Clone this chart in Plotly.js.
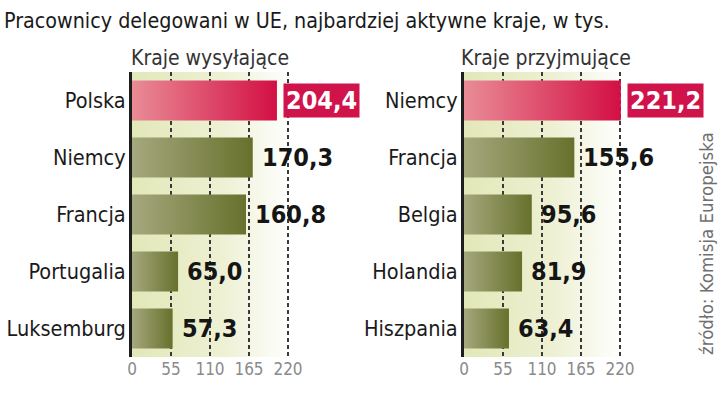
<!DOCTYPE html>
<html><head><meta charset="utf-8">
<script src="https://cdn.plot.ly/plotly-3.0.1.min.js"></script>
<style>html,body{margin:0;padding:0;background:#fff}#chart{width:720px;height:394px}</style>
</head><body><div id="chart"></div>
<script>
const titleText = "Pracownicy delegowani w UE, najbardziej aktywne kraje, w tys.";
const sendTitle = "Kraje wysyłające";
const recvTitle = "Kraje przyjmujące";
const sourceText = "źródło: Komisja Europejska";
const sendCountries = ["Polska", "Niemcy", "Francja", "Portugalia", "Luksemburg"];
const sendValues = [204.4, 170.3, 160.8, 65.0, 57.3];
const recvCountries = ["Niemcy", "Francja", "Belgia", "Holandia", "Hiszpania"];
const recvValues = [221.2, 155.6, 95.6, 81.9, 63.4];
const tickVals = [0, 55, 110, 165, 220];

const W = 720, H = 394;
const px = v => v / W, py = v => 1 - v / H;
const xRange = [0, 225];
const leftDom = [px(132), px(132 + 225 * 156 / 220)];
const rightDom = [px(464), px(464 + 225 * 156 / 220)];
const yDom = [py(357), py(72)];
const fmt = v => v.toFixed(1).replace('.', ',');
const FONT = "DejaVu Sans Condensed, DejaVu Sans, sans-serif";
const BOLD = "DejaVu Sans Condensed, DejaVu Sans, sans-serif";

function barTrace(vals, cats, xa, ya) {
  return {
    type: 'bar', orientation: 'h', x: vals, y: cats, xaxis: xa, yaxis: ya,
    width: 0.7, hoverinfo: 'none',
    marker: {color: vals.map((v, i) => i === 0 ? '#d8274f' : '#7b833f'), line: {width: 0}}
  };
}
const data = [barTrace(sendValues, sendCountries, 'x', 'y'), barTrace(recvValues, recvCountries, 'x2', 'y2')];

function valueAnns(vals, cats, xr, yr) {
  return vals.map((v, i) => i === 0 ? {
    x: v, y: cats[i], xref: xr, yref: yr, text: fmt(v), showarrow: false,
    xanchor: 'left', xshift: 6, bgcolor: '#d0134a', borderpad: 2,
    font: {family: BOLD, size: 25, color: '#fff', weight: 'bold'}
  } : {
    x: v, y: cats[i], xref: xr, yref: yr, text: fmt(v), showarrow: false,
    xanchor: 'left', xshift: 7,
    font: {family: BOLD, size: 25, color: '#151515', weight: 'bold'}
  });
}

const bgSvg = "<svg xmlns='http://www.w3.org/2000/svg' width='100' height='100' preserveAspectRatio='none'><defs><linearGradient id='g' x1='0' x2='1' y1='0' y2='0'><stop offset='0' stop-color='#e2e8b9'/><stop offset='0.55' stop-color='#edf0d2'/><stop offset='1' stop-color='#ffffff'/></linearGradient></defs><rect width='100' height='100' fill='url(#g)'/></svg>";
const bgSrc = "data:image/svg+xml;charset=utf-8," + encodeURIComponent(bgSvg);

function xAxis(dom, anchor) {
  return {
    domain: dom, anchor: anchor, range: xRange, fixedrange: true,
    tickvals: tickVals, ticktext: tickVals.map(String), showgrid: true,
    gridcolor: '#3a3a3a', gridwidth: 1.1, griddash: '4px,3px', layer: 'above traces',
    zeroline: false, showline: false, ticks: '', ticklabelstandoff: 0,
    tickfont: {family: FONT, size: 17, color: '#8a8a8a'}
  };
}
function yAxis(anchor) {
  return {
    domain: yDom, anchor: anchor, autorange: 'reversed', type: 'category',
    showline: true, linewidth: 3, linecolor: '#1e1e1e', showgrid: false, ticks: '',
    ticklabelstandoff: -1, tickfont: {family: FONT, size: 21.5, color: '#1a1a1a'}
  };
}

const layout = {
  width: W, height: H, margin: {l: 0, r: 0, t: 0, b: 0},
  paper_bgcolor: '#fff', plot_bgcolor: 'rgba(0,0,0,0)', showlegend: false,
  title: {text: titleText, x: px(4), xanchor: 'left', xref: 'paper', y: py(21), yanchor: 'middle',
    font: {family: FONT, size: 21.3, color: '#1a1a1a'}},
  xaxis: xAxis(leftDom, 'y'), yaxis: yAxis('x'),
  xaxis2: xAxis(rightDom, 'y2'), yaxis2: yAxis('x2'),
  bargap: 0.3,
  images: [leftDom, rightDom].map(d => ({source: bgSrc, xref: 'paper', yref: 'paper',
    x: d[0], y: yDom[1], sizex: d[1] - d[0], sizey: yDom[1] - yDom[0],
    xanchor: 'left', yanchor: 'top', sizing: 'stretch', layer: 'below'})),
  annotations: [
    ...valueAnns(sendValues, sendCountries, 'x', 'y'),
    ...valueAnns(recvValues, recvCountries, 'x2', 'y2'),
    {text: sendTitle, xref: 'paper', yref: 'paper', x: px(129), y: py(58), xanchor: 'left', yanchor: 'middle',
      showarrow: false, font: {family: FONT, size: 21, color: '#333'}},
    {text: recvTitle, xref: 'paper', yref: 'paper', x: px(459), y: py(58), xanchor: 'left', yanchor: 'middle',
      showarrow: false, font: {family: FONT, size: 21, color: '#333'}},
    {text: sourceText, xref: 'paper', yref: 'paper', x: px(706), y: py(244), xanchor: 'center', yanchor: 'middle',
      textangle: -90, showarrow: false, font: {family: FONT, size: 18.5, color: '#6f6f6f'}}
  ]
};

Plotly.newPlot('chart', data, layout, {staticPlot: true, displayModeBar: false}).then(gd => {
  const svg = gd.querySelector('svg.main-svg');
  const ns = 'http://www.w3.org/2000/svg';
  let defs = svg.querySelector('defs') || svg.insertBefore(document.createElementNS(ns, 'defs'), svg.firstChild);
  const mk = (id, c0, c1) => {
    const lg = document.createElementNS(ns, 'linearGradient');
    lg.setAttribute('id', id); lg.setAttribute('x1', '0'); lg.setAttribute('x2', '1');
    lg.setAttribute('y1', '0'); lg.setAttribute('y2', '0');
    [[0, c0], [1, c1]].forEach(([o, c]) => {
      const s = document.createElementNS(ns, 'stop');
      s.setAttribute('offset', o); s.setAttribute('stop-color', c); lg.appendChild(s);
    });
    defs.appendChild(lg);
  };
  mk('gradGreen', '#a6a87e', '#67712c');
  mk('gradRed', '#e98c96', '#d30f44');
  gd.querySelectorAll('g.trace.bars').forEach(tr => {
    tr.querySelectorAll('g.point path').forEach((p, i) => {
      p.style.fill = i === 0 ? 'url(#gradRed)' : 'url(#gradGreen)';
    });
  });
});
</script></body></html>
